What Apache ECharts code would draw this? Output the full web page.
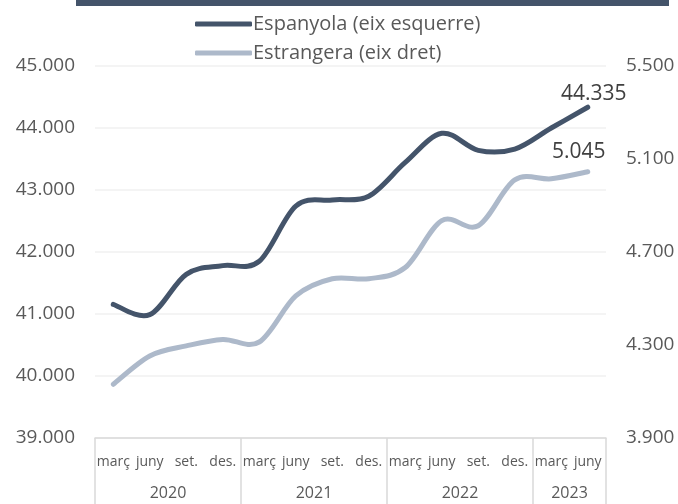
<!DOCTYPE html>
<html><head><meta charset="utf-8">
<script src="https://cdn.jsdelivr.net/npm/echarts/dist/echarts.min.js"></script>
<style>html,body{margin:0;padding:0;background:#fff}#c{width:678px;height:504px}</style>
</head><body><div id="c"></div>
<script>
const categories = ['març','juny','set.','des.','març','juny','set.','des.','març','juny','set.','des.','març','juny'];
const years = ['2020','2021','2022','2023'];
const yearCounts = [4,4,4,2];
const seriesNames = ['Espanyola (eix esquerre)','Estrangera (eix dret)'];
const espanyola = [41156,40990,41640,41780,41850,42740,42840,42900,43444,43914,43640,43660,44000,44335];
const estrangera = [4131,4253,4296,4324,4313,4511,4585,4585,4633,4835,4813,5010,5015,5045];
const leftTicks = {min:39000,max:45000,interval:1000};
const rightTicks = {min:3900,max:5500,interval:400};

const fmt = v => Math.round(v).toString().replace(/\B(?=(\d{3})+(?!\d))/g,'.');
const FONT = '"Open Sans", sans-serif';
const yearStarts = []; const yearCenter = {};
let acc = 0;
yearCounts.forEach((n,i)=>{ yearStarts.push(acc); yearCenter[acc + n/2] = years[i]; acc += n; });
const total = acc;

// smooth (Catmull-Rom) line drawn through the axes' own coordinate mapping
function smoothRenderer(color, labelOffset){
  return function(params, api){
    const n = params.dataInsideLength;
    if (params.dataIndexInside !== 0) return null;
    const pts = [];
    for (let i = 0; i < n; i++) pts.push(api.coord([api.value(0, i), api.value(1, i)]));
    let d = 'M' + pts[0][0] + ' ' + pts[0][1];
    for (let i = 0; i < n - 1; i++) {
      const p0 = pts[Math.max(i - 1, 0)], p1 = pts[i], p2 = pts[i + 1], p3 = pts[Math.min(i + 2, n - 1)];
      const c1 = [p1[0] + (p2[0] - p0[0]) / 6, p1[1] + (p2[1] - p0[1]) / 6];
      const c2 = [p2[0] - (p3[0] - p1[0]) / 6, p2[1] - (p3[1] - p1[1]) / 6];
      d += ' C' + c1[0] + ' ' + c1[1] + ' ' + c2[0] + ' ' + c2[1] + ' ' + p2[0] + ' ' + p2[1];
    }
    const last = pts[n - 1];
    return {
      type:'group',
      children:[
        {type:'path', shape:{pathData:d}, style:{fill:null, stroke:color, lineWidth:5, lineCap:'round', lineJoin:'round'}},
        {type:'text', x:last[0] + labelOffset[0], y:last[1] + labelOffset[1],
         style:{text:fmt(api.value(1, n - 1)), fill:'#404040', font:'21px ' + FONT, align:'center', verticalAlign:'bottom'}}
      ]
    };
  };
}

const chart = echarts.init(document.getElementById('c'), null, {renderer:'canvas'});
chart.setOption({
  animation:false,
  backgroundColor:'#fff',
  graphic:[{type:'rect',left:76,top:0,shape:{width:593,height:6},style:{fill:'#44546a'}}],
  legend:{
    orient:'vertical', left:190, top:8, itemGap:7,
    itemWidth:57, itemHeight:5,
    textStyle:{fontFamily:FONT,fontSize:20,color:'#595959',lineHeight:22,padding:[0,0,0,-4]},
    data:seriesNames.map(n=>({name:n,icon:'roundRect'}))
  },
  grid:{left:95,right:72,top:66,bottom:66,containLabel:false},
  xAxis:[{
    type:'category', data:categories, boundaryGap:true, gridIndex:0, position:'bottom',
    axisLine:{show:true,lineStyle:{color:'#d9d9d9',width:1.5}},
    axisTick:{show:true,length:66,interval:(i)=>yearStarts.indexOf(i)>=0,lineStyle:{color:'#d9d9d9',width:1.5}},
    axisLabel:{interval:0,margin:17,fontFamily:FONT,fontSize:14,color:'#595959'},
    splitLine:{show:false}
  },{
    type:'value', min:0, max:total, interval:1, gridIndex:0, position:'bottom',
    axisLine:{show:false}, axisTick:{show:false}, splitLine:{show:false},
    axisLabel:{margin:47,fontFamily:FONT,fontSize:16,color:'#595959',showMinLabel:true,showMaxLabel:true,
      formatter:v=>yearCenter[v]||''}
  }],
  yAxis:[{
    type:'value', position:'left', ...leftTicks,
    axisLine:{show:false}, axisTick:{show:false},
    splitLine:{lineStyle:{color:'#f0f0f0',width:1.5}},
    axisLabel:{margin:20,fontFamily:FONT,fontSize:19,color:'#595959',formatter:fmt}
  },{
    type:'value', position:'right', ...rightTicks,
    axisLine:{show:false}, axisTick:{show:false}, splitLine:{show:false},
    axisLabel:{margin:20,fontFamily:FONT,fontSize:19,color:'#595959',formatter:fmt}
  }],
  series:[{
    name:seriesNames[0], type:'custom', xAxisIndex:0, yAxisIndex:0, clip:false,
    data:espanyola.map((v,i)=>[i,v]), encode:{x:0,y:1},
    itemStyle:{color:'#44546a'},
    renderItem:smoothRenderer('#44546a',[6,-3])
  },{
    name:seriesNames[1], type:'custom', xAxisIndex:0, yAxisIndex:1, clip:false,
    data:estrangera.map((v,i)=>[i,v]), encode:{x:0,y:1},
    itemStyle:{color:'#adb9ca'},
    renderItem:smoothRenderer('#adb9ca',[-9,-9])
  }]
});
</script></body></html>
